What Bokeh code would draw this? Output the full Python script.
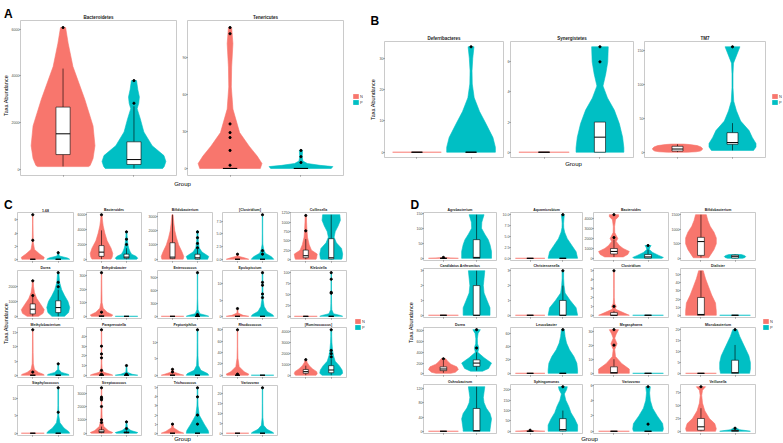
import numpy as np
from bokeh.plotting import figure
from bokeh.models import Range1d, FixedTicker, Legend, LegendItem, GridBox
from bokeh.core.properties import value
from bokeh.embed import file_html
from bokeh.resources import INLINE

GROUPS = ["N", "P"]
COLORS = {"N": "#F8766D", "P": "#00BFC4"}
FLAT = dict(y=[0, 0], w=[1, 1], box=[0, 0, 0, 0, 0], out=[])

# ---------------- Panel A ----------------
bacteroidetes = dict(title="Bacteroidetes", ticks=[0, 2000, 4000, 6000],
    N=dict(y=[120, 170, 465, 1015, 1860, 3000, 4400, 5400, 6070],
           w=[0.8, 0.85, 0.94, 1.0, 0.94, 0.68, 0.31, 0.16, 0.08],
           box=[127, 634, 1523, 2665, 4315], out=[6070]),
    P=dict(y=[40, 127, 340, 590, 1015, 1600, 2160, 2600, 2830, 3100, 3420, 3800],
           w=[0.9, 0.95, 1.0, 0.94, 0.57, 0.31, 0.2, 0.1, 0.15, 0.17, 0.12, 0.08],
           box=[40, 210, 420, 1180, 2700], out=[2830, 3800]))
tenericutes = dict(title="Tenericutes", ticks=[0, 30, 60, 90],
    N=dict(y=[0, 4, 10, 18, 29, 48, 66, 82, 101, 114],
           w=[0.95, 1.0, 0.85, 0.6, 0.3, 0.09, 0.04, 0.05, 0.09, 0.05],
           box=[0, 0, 0, 0, 0], out=[2.6, 14.6, 25, 29, 36, 109, 114]),
    P=dict(y=[0, 1.5, 2.5, 4, 6, 9.5, 14.6], w=[0.95, 1.0, 0.6, 0.2, 0.06, 0.04, 0.05],
           box=[0, 0, 0, 0, 0], out=[4.8, 9.5, 14.6]))

# ---------------- Panel B ----------------
deferribacteres = dict(title="Deferribacteres", ticks=[0, 10, 20, 30], N=FLAT,
    P=dict(y=[0, 1.6, 4.7, 9, 13, 17.4, 21.8, 26, 30, 33.7],
           w=[1.0, 1.0, 0.9, 0.62, 0.35, 0.13, 0.05, 0.04, 0.07, 0.12],
           box=[0, 0, 0, 0, 0], out=[33.7]))
synergistetes = dict(title="Synergistetes", ticks=[0, 2, 4, 6], N=FLAT,
    P=dict(y=[0, 0.3, 1.0, 1.9, 2.8, 3.6, 4.4, 5.2, 6.0, 7.0],
           w=[0.95, 0.95, 0.9, 0.77, 0.57, 0.3, 0.12, 0.23, 0.31, 0.33],
           box=[0, 0, 1, 2, 2], out=[6, 7]))
tm7 = dict(title="TM7", ticks=[0, 50, 100, 150],
    N=dict(y=[0.3, 1, 2, 4, 6, 8, 10, 11.5, 12.2], w=[0.4, 0.75, 0.92, 1.0, 1.0, 0.95, 0.8, 0.5, 0.25],
           box=[0.5, 2, 5, 9, 12], out=[]),
    P=dict(y=[3, 8, 13, 22, 32, 46, 61, 75, 95, 115, 131, 143, 155],
           w=[0.85, 0.95, 0.95, 0.8, 0.67, 0.33, 0.16, 0.05, 0.02, 0.02, 0.04, 0.17, 0.3],
           box=[3, 12, 14.5, 29, 43], out=[155]))

# ---------------- Panel C ----------------
c_1_68 = dict(title="1-68", ticks=[0, 2, 4, 6],
    N=dict(y=[0, 0.3, 0.8, 1.5, 2.5, 4, 5.5, 6.8], w=[0.95, 1.0, 0.6, 0.15, 0.05, 0.03, 0.02, 0.02],
           box=[0, 0, 0, 0, 0], out=[2.9, 6.8]),
    P=dict(y=[0, 0.2, 0.5, 1.0], w=[1.0, 0.8, 0.1, 0.03], box=[0, 0, 0, 0, 0], out=[1.0]))
c_bacteroides = dict(title="Bacteroides", ticks=[0, 2000, 4000, 6000],
    N=dict(y=[30, 300, 800, 1500, 2500, 3500, 4500, 5300, 6000], w=[0.85, 0.95, 1.0, 0.85, 0.5, 0.3, 0.15, 0.08, 0.05],
           box=[30, 400, 970, 1850, 3900], out=[6000]),
    P=dict(y=[10, 150, 400, 700, 1100, 1500, 2000, 2700, 3200, 3700], w=[0.9, 1.0, 0.85, 0.45, 0.3, 0.2, 0.12, 0.08, 0.05, 0.05],
           box=[10, 150, 300, 700, 1500], out=[2000, 2700, 3700]))
c_bifidobacterium = dict(title="Bifidobacterium", ticks=[0, 1000, 2000, 3000],
    N=dict(y=[10, 200, 500, 1000, 1500, 2000, 2500, 3100], w=[0.95, 1.0, 0.85, 0.55, 0.35, 0.2, 0.12, 0.05],
           box=[10, 50, 150, 1150, 3100], out=[]),
    P=dict(y=[0, 200, 500, 800, 1200, 1600, 2000], w=[0.9, 1.0, 0.4, 0.15, 0.08, 0.05, 0.05],
           box=[0, 20, 100, 350, 700], out=[800, 1100, 1500, 1900]))
c_clostridium = dict(title="[Clostridium]", ticks=[0, 2.5, 5, 7.5],
    N=dict(y=[0, 0.3, 0.6, 1.0], w=[1.0, 0.6, 0.08, 0.04], box=[0, 0, 0, 0, 0], out=[1.0]),
    P=dict(y=[0, 0.5, 1.2, 2, 3, 5, 7, 8.8], w=[1.0, 0.8, 0.25, 0.1, 0.03, 0.02, 0.02, 0.02],
           box=[0, 0, 0, 0, 0], out=[1.0, 1.7, 8.8]))
c_collinsella = dict(title="Collinsella", ticks=[0, 250, 500, 750, 1000, 1250],
    N=dict(y=[10, 50, 150, 250, 400, 600, 800, 1000, 1180], w=[0.9, 0.95, 1.0, 0.5, 0.3, 0.15, 0.1, 0.07, 0.05],
           box=[10, 50, 105, 255, 550], out=[770, 1180]),
    P=dict(y=[10, 30, 150, 300, 450, 600, 750, 900, 1050, 1200], w=[0.9, 0.95, 1.0, 0.9, 0.45, 0.25, 0.35, 0.6, 0.8, 0.75],
           box=[10, 20, 50, 560, 1200], out=[]))
c_dorea = dict(title="Dorea", ticks=[0, 1000, 2000],
    N=dict(y=[0, 200, 450, 800, 1200, 1600, 2000, 2400], w=[0.5, 0.9, 1.0, 0.7, 0.35, 0.15, 0.07, 0.04],
           box=[0, 165, 480, 840, 1300], out=[1400, 2400]),
    P=dict(y=[0, 250, 600, 1000, 1400, 1800, 2300, 2950], w=[0.55, 0.9, 1.0, 0.85, 0.55, 0.3, 0.12, 0.05],
           box=[0, 250, 590, 1050, 1800], out=[2000, 2300, 2950]))
c_enhydrobacter = dict(title="Enhydrobacter", ticks=[0, 100, 200, 300],
    N=dict(y=[0, 10, 30, 60, 100, 200, 320], w=[0.9, 1.0, 0.5, 0.15, 0.05, 0.03, 0.02],
           box=[0, 0, 0, 5, 10], out=[30, 320]), P=FLAT)
c_enterococcus = dict(title="Enterococcus", ticks=[0, 300, 600, 900], N=FLAT,
    P=dict(y=[0, 20, 60, 150, 400, 700, 1000], w=[1.0, 0.8, 0.2, 0.05, 0.02, 0.02, 0.02],
           box=[0, 0, 0, 0, 0], out=[20, 40, 1000]))
c_epulopiscium = dict(title="Epulopiscium", ticks=[0, 5, 10],
    N=dict(y=[0, 0.3, 1, 2.4], w=[1.0, 0.5, 0.05, 0.03], box=[0, 0, 0, 0, 0], out=[2.4]),
    P=dict(y=[0, 0.5, 1.5, 3, 5, 8, 11, 13.5], w=[1.0, 0.9, 0.4, 0.15, 0.06, 0.04, 0.03, 0.03],
           box=[0, 0, 0, 0, 0], out=[5.8, 6.9, 9.6, 10.5, 13.5]))
c_klebsiella = dict(title="Klebsiella", ticks=[0, 25, 50, 75, 100], N=FLAT,
    P=dict(y=[0, 2, 6, 15, 30, 60, 100], w=[1.0, 0.8, 0.2, 0.05, 0.03, 0.02, 0.02],
           box=[0, 0, 0, 0, 0], out=[53, 55, 85, 100]))
c_methylobacterium = dict(title="Methylobacterium", ticks=[0, 5, 10, 15],
    N=dict(y=[0, 0.3, 1, 2, 4, 8, 16], w=[1.0, 0.95, 0.5, 0.15, 0.05, 0.03, 0.02], box=[0, 0, 0, 0, 0], out=[1.1, 16]),
    P=dict(y=[0, 0.3, 1, 2, 4], w=[0.95, 0.9, 0.3, 0.05, 0.03], box=[0, 0, 0, 0, 0], out=[4]))
c_paraprevotella = dict(title="Paraprevotella", ticks=[0, 10, 20, 30, 40],
    N=dict(y=[0, 1, 3, 6, 12, 25, 47], w=[1.0, 0.8, 0.2, 0.06, 0.03, 0.02, 0.02], box=[0, 0, 0, 0, 0],
           out=[1, 5, 18, 22, 30, 47]),
    P=dict(y=[0, 1, 3, 10], w=[1.0, 0.5, 0.06, 0.02], box=[0, 0, 0, 0, 0], out=[1, 10]))
c_peptoniphilus = dict(title="Peptoniphilus", ticks=[0, 5, 10],
    N=dict(y=[0, 0.3, 1, 2], w=[1.0, 0.7, 0.1, 0.04], box=[0, 0, 0, 0, 0], out=[1, 1.8]),
    P=dict(y=[0, 0.5, 1.5, 3, 6, 10, 13.9], w=[1.0, 0.9, 0.3, 0.08, 0.04, 0.03, 0.03], box=[0, 0, 0, 0, 0], out=[13.9]))
c_rhodococcus = dict(title="Rhodococcus", ticks=[0, 20, 40, 60, 80],
    N=dict(y=[0, 2, 6, 15, 30, 50, 80], w=[0.95, 1.0, 0.6, 0.15, 0.04, 0.02, 0.02], box=[0, 0, 0, 0, 0], out=[2, 80]),
    P=FLAT)
c_ruminococcus = dict(title="[Ruminococcus]", ticks=[0, 1000, 2000, 3000, 4000],
    N=dict(y=[20, 150, 350, 600, 900, 1200, 1450], w=[0.9, 1.0, 0.95, 0.6, 0.3, 0.12, 0.06],
           box=[20, 200, 350, 550, 900], out=[1450]),
    P=dict(y=[20, 200, 500, 900, 1300, 1800, 2300, 3000, 3600, 4200], w=[0.8, 1.0, 0.95, 0.7, 0.35, 0.2, 0.12, 0.06, 0.04, 0.04],
           box=[20, 250, 500, 900, 1500], out=[1700, 2000, 2300, 4200]))
c_staphylococcus = dict(title="Staphylococcus", ticks=[0, 5, 10], N=FLAT,
    P=dict(y=[0, 0.5, 1.5, 3, 5, 8, 13], w=[1.0, 0.9, 0.5, 0.15, 0.05, 0.03, 0.03], box=[0, 0, 0, 0, 0], out=[6, 13]))
c_streptococcus = dict(title="Streptococcus", ticks=[0, 1000, 2000, 3000],
    N=dict(y=[0, 50, 200, 500, 1000, 2000, 3400], w=[0.9, 1.0, 0.6, 0.2, 0.06, 0.03, 0.02],
           box=[0, 50, 100, 250, 500], out=[800, 1000, 2000, 2500, 2600, 2700, 3400]),
    P=dict(y=[0, 50, 200, 400, 850], w=[0.9, 1.0, 0.4, 0.08, 0.03], box=[0, 20, 50, 100, 200], out=[350, 850]))
c_trichococcus = dict(title="Trichococcus", ticks=[0, 1, 2, 3, 4, 5],
    N=dict(y=[0, 0.2, 0.6, 1], w=[1.0, 0.6, 0.1, 0.04], box=[0, 0, 0, 0, 0], out=[1]),
    P=dict(y=[0, 0.3, 1, 2, 3, 4, 5], w=[1.0, 0.95, 0.6, 0.15, 0.05, 0.03, 0.03], box=[0, 0, 0, 0, 0], out=[1, 2, 4, 5]))
c_variovorax = dict(title="Variovorax", ticks=[0, 5, 10, 15, 20], N=FLAT,
    P=dict(y=[0, 0.5, 2, 4, 8, 15, 23], w=[1.0, 0.9, 0.4, 0.1, 0.03, 0.02, 0.02], box=[0, 0, 0, 0, 0], out=[23]))

# ---------------- Panel D ----------------
d_agrobacterium = dict(title="Agrobacterium", ticks=[0, 50, 100, 150],
    N=dict(y=[0, 1, 3], w=[1.0, 0.5, 0.05], box=[0, 0, 0, 0, 0], out=[3]),
    P=dict(y=[0, 23, 45, 62, 80, 100, 120, 145], w=[1.0, 1.0, 0.9, 0.78, 0.55, 0.33, 0.35, 0.5],
           box=[0, 0, 3, 62, 145], out=[]))
d_aquamicrobium = dict(title="Aquamicrobium", ticks=[0, 2.5, 5, 7.5, 10], N=FLAT,
    P=dict(y=[0, 1.5, 3, 4.5, 6, 7, 8, 9, 10], w=[1.0, 0.9, 0.6, 0.3, 0.12, 0.06, 0.05, 0.07, 0.1],
           box=[0, 0, 0, 0, 0], out=[10]))
d_bacteroides = dict(title="Bacteroides", ticks=[0, 1000, 2000, 3000, 4000],
    N=dict(y=[150, 400, 700, 1000, 1300, 1700, 2000, 2300, 2600, 3200, 3900, 4200, 4400],
           w=[0.6, 0.9, 1.0, 0.6, 0.35, 0.15, 0.25, 0.15, 0.05, 0.04, 0.1, 0.3, 0.3],
           box=[150, 450, 700, 1000, 1900], out=[2100, 4400]),
    P=dict(y=[10, 100, 300, 600, 900, 1100, 1300], w=[0.9, 1.0, 0.7, 0.3, 0.08, 0.12, 0.2],
           box=[10, 30, 150, 400, 900], out=[1300]))
d_bifidobacterium = dict(title="Bifidobacterium", ticks=[0, 500, 1000, 1500],
    N=dict(y=[20, 100, 300, 500, 700, 900, 1100, 1300, 1500], w=[0.5, 0.6, 0.85, 1.0, 1.0, 0.85, 0.6, 0.45, 0.35],
           box=[20, 100, 575, 720, 1500], out=[]),
    P=dict(y=[0, 30, 60, 100, 130], w=[0.5, 0.65, 0.7, 0.6, 0.4], box=[0, 10, 70, 110, 130], out=[]))
d_arthromitus = dict(title="Candidatus Arthromitus", ticks=[0, 1, 2, 3], N=FLAT,
    P=dict(y=[0, 0.5, 1, 1.5, 2, 2.5, 3], w=[0.9, 0.9, 0.7, 0.5, 0.45, 0.5, 0.55], box=[0, 0, 0, 2, 3], out=[]))
d_christensenella = dict(title="Christensenella", ticks=[0, 1, 2, 3], N=FLAT,
    P=dict(y=[0, 0.5, 1, 1.5, 2, 2.5, 3], w=[1.0, 0.9, 0.5, 0.15, 0.08, 0.05, 0.05], box=[0, 0, 0, 1, 2], out=[3]))
d_clostridium = dict(title="Clostridium", ticks=[0, 1, 2, 3, 4, 5],
    N=dict(y=[0, 0.3, 0.7, 1, 1.3, 2, 3, 5], w=[1.0, 0.6, 0.08, 0.15, 0.05, 0.02, 0.02, 0.02],
           box=[0, 0, 0, 0.3, 0.5], out=[1, 5]), P=FLAT)
d_dialister = dict(title="Dialister", ticks=[0, 10, 20, 30, 40, 50],
    N=dict(y=[0, 5, 15, 25, 35, 45, 55], w=[1.0, 1.0, 0.95, 0.7, 0.5, 0.3, 0.15], box=[0, 0, 1, 22, 55], out=[]),
    P=FLAT)
d_dorea = dict(title="Dorea", ticks=[0, 200, 400, 600, 800],
    N=dict(y=[10, 30, 80, 130, 180, 230, 280], w=[0.5, 0.8, 1.0, 0.9, 0.5, 0.3, 0.15], box=[20, 60, 90, 130, 250], out=[280]),
    P=dict(y=[50, 100, 200, 300, 400, 480, 560, 650, 750, 820], w=[0.4, 0.8, 1.0, 0.5, 0.08, 0.15, 0.06, 0.05, 0.1, 0.25],
           box=[60, 140, 200, 260, 400], out=[480, 820]))
d_leucobacter = dict(title="Leucobacter", ticks=[0, 20, 40, 60], N=FLAT,
    P=dict(y=[0, 5, 15, 25, 35, 45, 55, 65], w=[1.0, 1.0, 0.95, 0.75, 0.45, 0.25, 0.15, 0.1], box=[0, 0, 0, 0, 0], out=[65]))
d_megasphaera = dict(title="Megasphaera", ticks=[0, 10, 20, 30],
    N=dict(y=[0, 3, 7, 12, 17, 21, 25, 28, 31], w=[1.0, 1.0, 0.5, 0.1, 0.05, 0.2, 0.05, 0.15, 0.3],
           box=[0, 0, 0.5, 4.6, 10], out=[20, 31]), P=FLAT)
d_microbacterium = dict(title="Microbacterium", ticks=[0, 5, 10, 15, 20], N=FLAT,
    P=dict(y=[0, 2, 5, 8, 11, 14, 17, 20], w=[0.95, 1.0, 1.0, 0.9, 0.7, 0.5, 0.3, 0.15], box=[0, 0, 0.3, 6, 13], out=[20]))
d_ochrobactrum = dict(title="Ochrobactrum", ticks=[0, 40, 80, 120], N=FLAT,
    P=dict(y=[0, 5, 20, 35, 50, 65, 80, 95, 110, 125], w=[0.9, 0.9, 0.95, 1.0, 0.9, 0.65, 0.5, 0.45, 0.5, 0.55],
           box=[0, 0, 2, 64, 125], out=[]))
d_sphingomonas = dict(title="Sphingomonas", ticks=[0, 50, 100, 150, 200],
    N=dict(y=[0, 2, 5], w=[1.0, 0.4, 0.05], box=[0, 0, 0, 0, 0], out=[5]),
    P=dict(y=[0, 5, 30, 60, 90, 120, 150, 180, 200, 215], w=[1.0, 1.0, 1.0, 0.8, 0.55, 0.4, 0.2, 0.1, 0.25, 0.3],
           box=[0, 2, 8, 61, 100], out=[215]))
d_variovorax = dict(title="Variovorax", ticks=[0, 2, 4, 6], N=FLAT,
    P=dict(y=[0, 0.3, 1, 2, 3, 4, 5, 5.8], w=[0.95, 1.0, 0.95, 0.6, 0.3, 0.15, 0.1, 0.15], box=[0, 0, 0, 0, 0], out=[0.93, 5.8]))
d_veillonella = dict(title="Veillonella", ticks=[0, 25, 50, 75],
    N=dict(y=[0, 5, 15, 25, 40, 55, 70, 80, 87], w=[0.95, 1.0, 0.9, 0.55, 0.25, 0.1, 0.05, 0.1, 0.3],
           box=[0, 2, 8.7, 25, 45], out=[87]),
    P=dict(y=[0, 1, 3, 6], w=[1.0, 0.8, 0.3, 0.1], box=[0, 0, 1, 2, 4], out=[6]))

A_PANELS = [bacteroidetes, tenericutes]
B_PANELS = [deferribacteres, synergistetes, tm7]
C_PANELS = [[c_1_68, c_bacteroides, c_bifidobacterium, c_clostridium, c_collinsella],
            [c_dorea, c_enhydrobacter, c_enterococcus, c_epulopiscium, c_klebsiella],
            [c_methylobacterium, c_paraprevotella, c_peptoniphilus, c_rhodococcus, c_ruminococcus],
            [c_staphylococcus, c_streptococcus, c_trichococcus, c_variovorax]]
D_PANELS = [[d_agrobacterium, d_aquamicrobium, d_bacteroides, d_bifidobacterium],
            [d_arthromitus, d_christensenella, d_clostridium, d_dialister],
            [d_dorea, d_leucobacter, d_megasphaera, d_microbacterium],
            [d_ochrobactrum, d_sphingomonas, d_variovorax, d_veillonella]]

GROUP_LABEL = "Group"
Y_LABEL = "Taxa Abundance"

# ---------------- placement on a 1px grid (page pixels) ----------------
FONT = "Liberation Sans"
W_TOTAL, H_TOTAL = 782, 442
children = []


def place(fig, x0, x1, y0, y1):
    children.append((fig, int(y0), int(x0), int(y1 - y0), int(x1 - x0)))


def panel_fig(d, frame, title_size, pad=(13, 2, 7, 3)):
    fx0, fx1, fy0, fy1 = frame
    L, R, T, B = pad
    cx0, cx1, cy0, cy1 = fx0 - L, fx1 + R, fy0 - T, fy1 + B
    vals = []
    for g in GROUPS:
        vals += list(d[g]["y"]) + list(d[g]["out"]) + list(d[g]["box"])
    lo, hi = min(vals), max(vals)
    span = (hi - lo) or 1.0
    p = figure(width=cx1 - cx0, height=cy1 - cy0,
               x_range=Range1d(0.4, 2.6), y_range=Range1d(lo - 0.05 * span, hi + 0.05 * span),
               output_backend="svg", toolbar_location=None, title=d["title"],
               min_border_left=L, min_border_right=R, min_border_top=T, min_border_bottom=B)
    p.border_fill_color = None
    p.background_fill_color = "white"
    p.title.align = "center"
    p.title.text_font = FONT
    p.title.text_font_size = title_size
    p.title.text_font_style = "bold"
    p.title.text_color = "#1A1A1A"
    p.title.standoff = 1
    p.outline_line_color = "#BDBDBD"
    p.outline_line_width = 0.8
    p.xgrid.visible = False
    p.ygrid.visible = False
    ticks = d["ticks"]
    frac = any(float(t) != int(t) for t in ticks)
    p.yaxis.ticker = FixedTicker(ticks=ticks)
    p.yaxis.major_label_overrides = {t: (f"{t:.1f}" if frac else f"{int(t)}") for t in ticks}
    p.xaxis.ticker = FixedTicker(ticks=[1, 2])
    p.xaxis.major_label_overrides = {1: "", 2: ""}
    p.xaxis.major_label_text_font_size = "1px"
    p.xaxis.major_label_standoff = 0
    for ax in (p.xaxis, p.yaxis):
        ax.axis_line_color = None
        ax.minor_tick_line_color = None
        ax.major_tick_line_color = "#333333"
        ax.major_tick_line_width = 0.6
        ax.major_tick_in = 0
        ax.major_tick_out = 1
    p.yaxis.major_label_text_font = FONT
    p.yaxis.major_label_text_font_size = "3.6px"
    p.yaxis.major_label_text_color = "#4D4D4D"
    p.yaxis.major_label_standoff = 0
    for i, g in enumerate(GROUPS):
        c = i + 1
        v = d[g]
        y = np.array(v["y"], dtype=float)
        w = np.array(v["w"], dtype=float) * 0.45
        xs = np.concatenate([c - w, (c + w)[::-1]])
        ys = np.concatenate([y, y[::-1]])
        p.patch(xs, ys, fill_color=COLORS[g], line_color=COLORS[g], line_width=0.6)
        lo_, q1, md, q3, hi_ = v["box"]
        p.segment(x0=[c, c], y0=[lo_, q3], x1=[c, c], y1=[q1, hi_], line_color="black", line_width=0.6)
        p.quad(left=[c - 0.1], right=[c + 0.1], bottom=[q1], top=[q3],
               fill_color="white", line_color="black", line_width=0.6)
        p.segment(x0=[c - 0.1], y0=[md], x1=[c + 0.1], y1=[md], line_color="black", line_width=1)
        if v["out"]:
            p.scatter([c] * len(v["out"]), v["out"], size=2.2, color="black")
    place(p, cx0, cx1, cy0, cy1)
    return p


def legend_fig(kx, ky):
    x0, x1, y0, y1 = kx, kx + 11, ky, ky + 14
    p = figure(width=x1 - x0, height=y1 - y0,
               x_range=Range1d(0, 1), y_range=Range1d(0, 1),
               output_backend="svg", toolbar_location=None, title=None,
               x_axis_location=None, y_axis_location=None,
               min_border_left=0, min_border_right=0, min_border_top=0, min_border_bottom=0)
    p.border_fill_color = None
    p.background_fill_color = None
    p.outline_line_color = None
    p.xgrid.visible = False
    p.ygrid.visible = False
    items = []
    for g in GROUPS:
        r = p.quad(left=[0], right=[0], top=[0], bottom=[0], fill_color=COLORS[g], line_color=None)
        items.append(LegendItem(label=g, renderers=[r]))
    lg = Legend(items=items, location="top_left", glyph_width=7, glyph_height=6,
                label_height=6, label_width=3, label_standoff=1, spacing=0, padding=0, margin=0,
                border_line_color=None, background_fill_alpha=0,
                label_text_font=FONT, label_text_font_size="4px")
    p.add_layout(lg)
    place(p, x0, x1, y0, y1)
    return p


# ---------------- panels ----------------
panel_fig(A_PANELS[0], (20, 176, 19, 175), "4.5px")
panel_fig(A_PANELS[1], (187, 343, 19, 175), "4.5px")
for d, (fx0, fx1) in zip(B_PANELS, [(384, 503), (510, 633), (644, 765)]):
    panel_fig(d, (fx0, fx1, 41, 157), "4.5px", pad=(12, 2, 8, 3))

C_COLS = [(17, 73), (86, 141), (157, 212), (222, 277), (290, 346)]
C_ROWS = [(212, 261), (270, 318), (327, 377), (385, 435)]
for r, (fy0, fy1) in enumerate(C_ROWS):
    for k, d in enumerate(C_PANELS[r]):
        panel_fig(d, (C_COLS[k][0], C_COLS[k][1], fy0, fy1), "3.5px")

D_COLS = [(423, 496), (510, 582), (593, 668), (680, 755)]
D_ROWS = [(212, 260), (268, 317), (327, 375), (384, 433)]
for r, (fy0, fy1) in enumerate(D_ROWS):
    for k, d in enumerate(D_PANELS[r]):
        panel_fig(d, (D_COLS[k][0], D_COLS[k][1], fy0, fy1), "3.5px")

legend_fig(352, 93)
legend_fig(771, 93)
legend_fig(354, 318)
legend_fig(762, 318)

# ---------------- free texts (panel letters, axis titles) on a transparent overlay ----------------
overlay = figure(width=W_TOTAL, height=H_TOTAL,
                 x_range=Range1d(0, W_TOTAL), y_range=Range1d(H_TOTAL, 0),
                 output_backend="svg", toolbar_location=None, title=None,
                 x_axis_location=None, y_axis_location=None,
                 min_border_left=0, min_border_right=0, min_border_top=0, min_border_bottom=0)
overlay.border_fill_color = None
overlay.background_fill_color = None
overlay.outline_line_color = None
overlay.xgrid.visible = False
overlay.ygrid.visible = False
letters = dict(text=["A", "B", "C", "D"], x=[3.5, 370, 3.5, 410], y=[13.5, 20.5, 204, 204])
overlay.text(x="x", y="y", text="text", source=letters, text_font=value(FONT),
             text_font_size=value("12px"), text_font_style="bold", text_baseline="alphabetic",
             text_align="left", text_color="black")
ylabels = dict(text=[Y_LABEL] * 4, x=[5.5, 372, 5.5, 410], y=[95, 99, 323, 322])
overlay.text(x="x", y="y", text="text", source=ylabels, angle=np.pi / 2, text_font=value(FONT),
             text_font_size=value("5.5px"), text_baseline="middle", text_align="center", text_color="black")
xlabels = dict(text=[GROUP_LABEL] * 4, x=[182, 573, 182, 589], y=[183, 163.5, 438.5, 438.5])
overlay.text(x="x", y="y", text="text", source=xlabels, text_font=value(FONT),
             text_font_size=value("6px"), text_baseline="middle", text_align="center", text_color="black")
children.append((overlay, 0, 0, H_TOTAL, W_TOTAL))

page = GridBox(children=children, rows="1px", cols="1px", spacing=0)

open("out.html", "w").write(file_html(page, INLINE))
